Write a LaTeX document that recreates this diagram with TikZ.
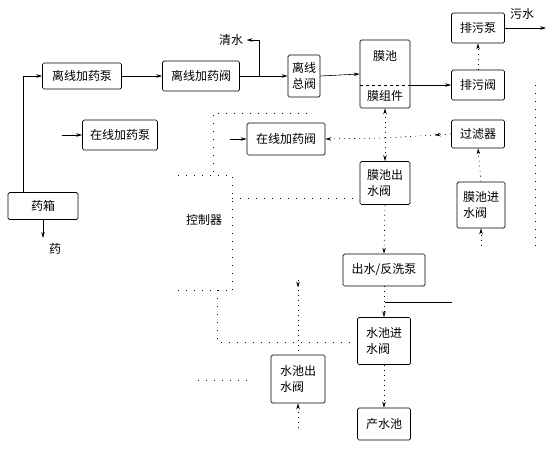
\documentclass[tikz,border=0pt]{standalone}
\usepackage{fontspec}
\newfontfamily\cjk{Noto Sans CJK SC}
\usetikzlibrary{arrows.meta,decorations.markings}
\begin{document}
\begin{tikzpicture}[x=1pt,y=-1pt,
  every node/.style={font=\cjk\fontsize{12}{16}\selectfont},
  box/.style={draw,line width=0.7pt,rounded corners=1.5pt,inner sep=0pt,align=left},
  flow/.style={line width=0.6pt},
  faint/.style={line width=0.6pt,dash pattern=on 1pt off 4pt},
  ctrl/.style={line width=0.8pt,dash pattern=on 1pt off 7pt},
  arr/.style={decoration={markings,mark=at position #1 with {\arrow{Stealth[length=6pt,width=3.5pt]}}},postaction={decorate}},
  arrend/.style={-{Stealth[length=6pt,width=3.5pt]}}
]
\useasboundingbox (0,0) rectangle (552,448);

% boxes
\node[box,minimum width=79pt,minimum height=26pt] (b1) at (82,76) {离线加药泵};
\node[box,minimum width=77pt,minimum height=30pt] (b2) at (201,76) {离线加药阀};
\node[box,minimum width=32pt,minimum height=42pt] (b3) at (304,76) {离线\\总阀};
\node[box,minimum width=50pt,minimum height=68pt] (mc) at (385,74) {};
\node (mct) at (385,56) {膜池};
\node (mcz) at (385,96) {膜组件};
\draw[line width=0.6pt,dashed] ([yshift=-11pt]mc.west) -- ([yshift=-11pt]mc.east);
\node[box,minimum width=53pt,minimum height=30pt] (pwb) at (478,28) {排污泵};
\node[box,minimum width=53pt,minimum height=30pt] (pwv) at (478,85) {排污阀};
\node[box,minimum width=53pt,minimum height=28pt] (glq) at (478,134) {过滤器};
\node[box,minimum width=48pt,minimum height=46pt] (mjs) at (481,205) {膜池进\\水阀};
\node[box,minimum width=75pt,minimum height=30pt] (zxb) at (120,135) {在线加药泵};
\node[box,minimum width=78pt,minimum height=32pt] (zxv) at (286,139) {在线加药阀};
\node[box,minimum width=50pt,minimum height=43pt] (mcs) at (385,183) {膜池出\\水阀};
\node[box,minimum width=70pt,minimum height=27pt] (yx) at (43,206) {药箱};
\node (ctrl) at (204,220) {控制器};
\node[box,minimum width=82pt,minimum height=32pt] (pump) at (384,270) {出水/反洗泵};
\node[box,minimum width=53pt,minimum height=47pt] (sjv) at (384,341) {水池进\\水阀};
\node[box,minimum width=54pt,minimum height=48pt] (scv) at (298,379) {水池出\\水阀};
\node[box,minimum width=53pt,minimum height=32pt] (cs) at (384,424) {产水池};

% labels
\node (qs) at (231,40) {清水};
\node (ws) at (522,14) {污水};
\node (yao) at (55,249) {药};

% coordinates
\coordinate (c1) at (23,76);
\coordinate (jq) at (259,76);
\coordinate (wse) at (546,28);
\coordinate (yxa) at (43,238);
\coordinate (zxbin) at (62,135);
\coordinate (zxvin) at (230,139);
\coordinate (mid) at (385,138);
\coordinate (cend) at (452,302);
\coordinate (cst) at (385,302);
\coordinate (scvtop) at (298,280);
\coordinate (scvbot) at (298,428);
\coordinate (mjsbot) at (481,246);

% flow connectors
\draw[flow,arrend] (yx.north -| c1) -- (c1) -- (b1.west);
\draw[flow,arrend] (b1.east) -- (b2.west);
\draw[flow,arrend] (b2.east) -- (b3.west);
\draw[flow,arrend] (jq) |- (qs.east);
\draw[flow,arrend] (b3.east) -- (mc.west);
\draw[flow,arrend] (pwb.east) -- (wse);
\draw[flow,arrend] (pwv.west -| mc.east) -- (pwv.west);
\draw[faint,arrend] (pwv.north) -- (pwb.south);
\draw[flow,arrend] (yx.south) -- (yxa);
\draw[flow,arrend] (zxbin) -- (zxb.west);
\draw[flow,arrend] (zxvin) -- (zxv.west);
\draw[faint,arr=0.25] (glq.west) -- (mid);
\draw[faint,arrend] (mid) -- (zxv.east);
\draw[faint,{Stealth[length=6pt,width=3.5pt]}-{Stealth[length=6pt,width=3.5pt]}] (mc.south) -- (mcs.north);
\draw[faint,arrend] (mcs.south) -- (pump.north);
\draw[faint,arrend] (pump.south) -- (sjv.north);
\draw[flow] (cst) -- (cend);
\draw[faint,arrend] (sjv.south) -- (cs.north);
\draw[faint,arrend] (mjs.north) -- (glq.south);
\draw[faint,arrend] (mjsbot) -- (mjs.south);
\draw[faint,arr=0.1] (scvtop) -- (scv.north);
\draw[faint,arrend] (scvbot) -- (scv.south);

% control lines
\draw[ctrl] (307,113) -- (213,113) -- (213,175);
\draw[ctrl] (178,175) -- (232,175) -- (232,290);
\draw[ctrl] (232,198) -- (mcs.west |- 0,198);
\draw[ctrl] (178,290) -- (232,290);
\draw[ctrl] (217,290) -- (217,342) -- (sjv.west |- 0,342);
\draw[ctrl] (198,380) -- (248,380);
\draw[ctrl] (535,85) -- (535,246);
\end{tikzpicture}
\end{document}
